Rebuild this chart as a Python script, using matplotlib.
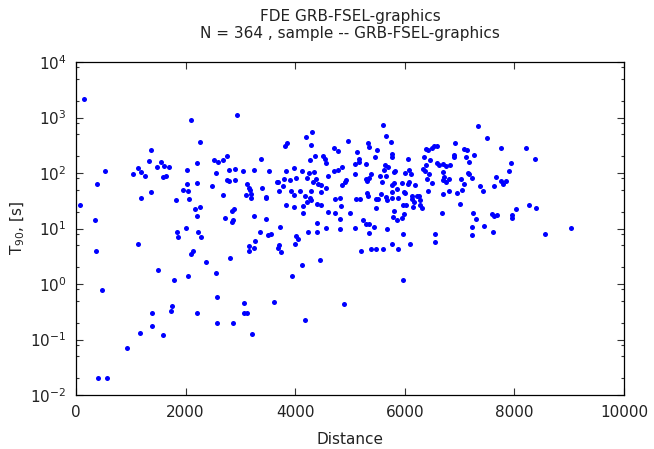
import matplotlib
matplotlib.use('Agg')
import matplotlib.pyplot as plt
from matplotlib.ticker import LogLocator, NullFormatter, MultipleLocator

# distance / T90 [s]
distance = [
    150, 2100, 2270, 1360, 1340, 1550, 1140, 1480, 1610, 1690, 2200, 530, 1040, 1190, 1250, 1590, 1640,
    2030, 380, 1360, 2030, 2200, 2490, 1960, 2050, 1190, 1830, 2060, 70, 2180, 2270, 2210, 340, 2000,
    1840, 2230, 1860, 2290, 1140, 370, 2090, 2140, 2370, 1500, 2040, 1780, 480, 1760, 1740, 1380, 2200,
    1390, 1160, 1590, 930, 400, 570,
    2930, 4310, 4200, 3850, 3820, 4280, 4710, 4780, 4970, 4370, 4270, 4500, 4540, 4570, 3380, 2750,
    2680, 2520, 2600, 2560, 2800, 2910, 3040, 3240, 3530, 3840, 3980, 4120, 4250, 4340, 4710, 4780,
    4860, 4600, 2760, 2790, 2900, 3120, 3160, 3180, 3200, 3110, 3190, 2680, 3400, 3460, 3470, 3660,
    3690, 3800, 3910, 4010, 3780, 3710, 3920, 3970, 4080, 4220, 4330, 4380, 4420, 4470, 4570, 4290,
    4170, 4270, 4290, 4220, 4390, 4470, 4470, 3840, 3970, 4150, 4140, 4730, 4810, 4840, 4850, 4900,
    4930, 4600, 4730, 4820, 2880, 2850, 2710, 2860, 2850, 3240, 3460, 3720, 4400, 4570, 4810,
    3360, 3510, 3550, 3270, 3160, 3150, 3240, 3700, 3690, 3740, 4020, 4050, 3990, 4230, 4400, 2810,
    2560, 4130, 4450, 3950, 2580, 3070, 3610, 4890, 3070, 3120, 2580, 2870, 4170, 3210,
    5600, 5650, 5750, 7330, 5320, 5340, 5490, 5130, 5770, 5760, 5460, 5160, 5170, 5090, 5290, 6060,
    5640, 5700, 6080, 6000, 6110, 6390, 6430, 6500, 6530, 6590, 6350, 6460, 6380, 6330, 6580, 6630,
    6690, 6750, 6830, 6910, 6890, 6890, 7080, 7130, 7110, 7170, 7260, 7150, 7180, 7230, 7080, 7030,
    7050, 6960, 7010, 7370, 7420, 6810, 6690, 6420, 6680, 6370, 6410, 6440, 6500, 6690, 6720, 6750,
    6810, 6700, 7250, 7300, 7220, 5090, 5310, 5340, 5390, 5290, 5110, 5180, 5000, 5240, 5290, 5430,
    5090, 5310, 5320, 5480, 5520, 5480, 5560, 5550, 5590, 5620, 5660, 5760, 5770, 5810, 5830, 5800,
    5660, 5680, 5760, 5850, 5870, 5940, 5990, 6050, 6070, 6190, 6010, 6130, 6220, 6250, 6140, 6160,
    6150, 5970, 6030, 6270, 6280, 6320, 5800, 5790, 5850, 5950, 5980, 5680,
    5340, 5340, 5970, 5760, 6100, 5200, 5380, 5480, 5610, 5880, 6550, 6550, 7220, 7440, 5970,
    7500, 7760, 8220, 8380, 7940, 7900, 7670, 7750, 7800, 7840, 7620, 7600, 7630, 7690, 7950, 7950,
    8030, 8270, 8390, 9040, 7610, 8550,
]
t90 = [
    2120, 890, 367, 259, 162, 156, 125, 128, 134, 128, 149, 110, 95, 106, 87, 85, 88,
    115, 64, 45, 64, 67, 59, 50, 47, 35, 32, 34, 26, 22, 24, 17, 14.2, 10.1,
    8.8, 8.8, 7.0, 7.0, 5.3, 3.9, 3.5, 3.9, 2.45, 1.8, 1.37, 1.16, 0.77, 0.40, 0.33, 0.30, 0.30,
    0.175, 0.13, 0.12, 0.069, 0.020, 0.020,
    1090, 540, 446, 352, 302, 315, 278, 245, 383, 205, 174, 200, 176, 149, 181, 200,
    169, 169, 156, 101, 113, 118, 110, 113, 109, 110, 123, 109, 101, 103, 110, 113,
    128, 87, 74, 72, 74, 64, 54, 50, 41, 40, 36, 40, 54, 37, 35, 69,
    69, 77, 74, 80, 59, 47, 47, 40, 47, 81, 70, 77, 64, 62, 54, 47,
    39, 36, 32, 30, 28, 27, 45, 27, 24, 25, 19, 34, 36, 25, 62, 70,
    74, 20, 19, 14.6, 22, 21, 15.7, 14.4, 12.9, 17, 14.6, 10.8, 12.4, 10.1, 9.8,
    8.5, 7.5, 8.1, 6.0, 4.9, 3.9, 4.4, 5.0, 4.4, 3.7, 7.2, 6.5, 5.3, 8.8, 8.5, 2.9,
    1.56, 2.2, 2.7, 1.37, 0.58, 0.46, 0.48, 0.44, 0.30, 0.30, 0.195, 0.20, 0.22, 0.127,
    743, 465, 367, 713, 343, 290, 256, 239, 220, 191, 191, 176, 156, 145, 145, 181,
    137, 128, 113, 99, 95, 270, 259, 278, 302, 310, 194, 174, 137, 118, 149, 137,
    145, 134, 139, 343, 211, 197, 270, 259, 191, 156, 208, 101, 95, 81, 64, 77,
    50, 44, 28, 59, 47, 47, 41, 47, 19, 110, 78, 95, 66, 106, 85, 68,
    78, 76, 19, 14.6, 10.5, 95, 73, 81, 95, 78, 34, 34, 19, 14, 12, 10.6,
    10.1, 44, 39, 34, 34, 23, 42, 90, 70, 112, 87, 62, 46, 103, 109, 67,
    37, 32, 35, 52, 35, 67, 46, 63, 69, 62, 44, 38, 38, 38, 34, 30,
    24, 26, 26, 33, 27, 23, 21, 16.3, 14.2, 15.7, 18, 9.9,
    11.9, 8.4, 8.1, 5.3, 5.3, 3.9, 4.2, 4.3, 4.2, 4.2, 7.9, 5.7, 7.5, 11.1, 1.16,
    434, 278, 278, 176, 151, 110, 85, 72, 64, 72, 59, 18.2, 17, 17.5, 17.7, 15.2,
    22, 26, 23, 10.4, 8.8, 7.9,
]

title = 'FDE GRB-FSEL-graphics\nN = 364 , sample -- GRB-FSEL-graphics'

plt.rcParams['font.family'] = 'DejaVu Sans'
plt.rcParams['font.size'] = 11

fig = plt.figure(figsize=(6.54, 4.49), dpi=100)
ax = fig.add_axes([76 / 654, 1 - 395 / 449, 548 / 654, 333 / 449])

ax.scatter(distance, t90, s=13, color='#0000ff', linewidths=0, zorder=3)

ax.set_yscale('log')
ax.set_xlim(0, 10000)
ax.set_ylim(1e-2, 1e4)
ax.xaxis.set_major_locator(MultipleLocator(2000))
ax.yaxis.set_major_locator(LogLocator(base=10, numticks=10))
ax.yaxis.set_minor_locator(LogLocator(base=10, subs=(2, 5, 8), numticks=20))
ax.yaxis.set_minor_formatter(NullFormatter())

ax.tick_params(which='both', direction='in', top=True, right=True, color='#333333')
ax.tick_params(which='major', length=5, width=0.8, pad=7, labelsize=11, labelcolor='#222222')
ax.tick_params(which='minor', length=2.5, width=0.8)
for sp in ax.spines.values():
    sp.set_linewidth(0.9)

ax.set_title(title, fontsize=11, pad=17, color='#222222')
ax.set_xlabel('Distance', fontsize=11, labelpad=9, color='#222222')
ax.set_ylabel(r'T$_{90}$, [s]', fontsize=11, labelpad=2, color='#222222')

fig.savefig('out.png', dpi=100)
